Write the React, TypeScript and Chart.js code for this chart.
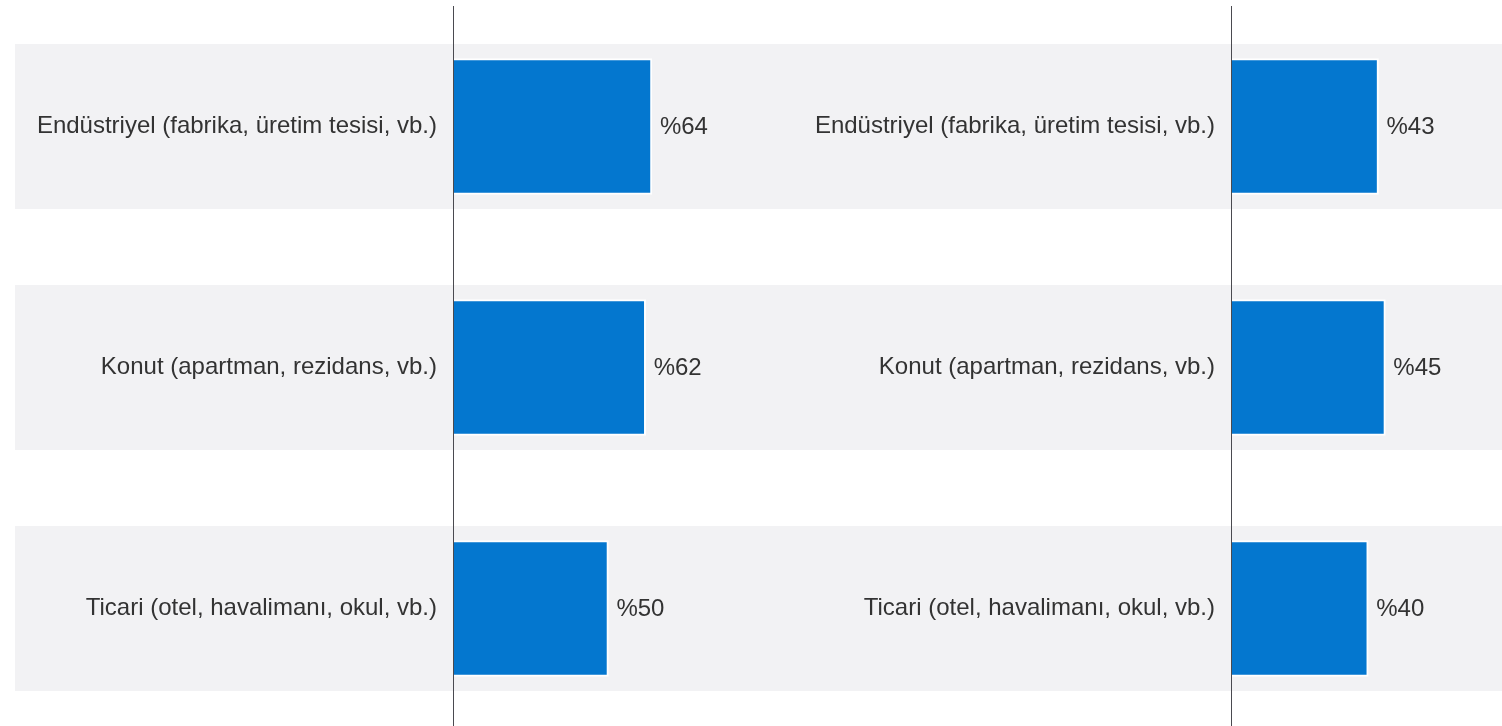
import React, { useEffect, useRef } from "react";
import { Chart, registerables } from "chart.js";

Chart.register(...registerables);

const categories = [
  "Endüstriyel (fabrika, üretim tesisi, vb.)",
  "Konut (apartman, rezidans, vb.)",
  "Ticari (otel, havalimanı, okul, vb.)",
];
const leftValues = [64, 62, 50];
const rightValues = [43, 45, 40];

const FONT = "'Liberation Sans', Arial, sans-serif";
const TEXT = "#333333";
const BAR = "#0477cf";
const BAND = "#f2f2f4";

const bgFirstPlugin = {
  id: "bgFirst",
  beforeDraw(chart: any) {
    const { ctx } = chart;
    const y = chart.scales.y;
    const step = Math.abs(y.getPixelForValue(1) - y.getPixelForValue(0));
    const h = step * 0.685;
    ctx.save();
    ctx.fillStyle = BAND;
    for (let i = 0; i < chart.data.labels.length; i++) {
      const c = y.getPixelForValue(i);
      ctx.fillRect(0, c - h / 2, chart.width, h);
    }
    ctx.restore();
  },
};

const valueLabelPlugin = {
  id: "valueLabels",
  afterDatasetsDraw(chart: any) {
    const { ctx } = chart;
    const meta = chart.getDatasetMeta(0);
    const data = chart.data.datasets[0].data;
    ctx.save();
    ctx.fillStyle = TEXT;
    ctx.font = `24px ${FONT}`;
    ctx.textAlign = "left";
    ctx.textBaseline = "middle";
    meta.data.forEach((bar: any, i: number) => {
      ctx.fillText("%" + data[i], bar.x + 8, bar.y + 1);
    });
    ctx.restore();
  },
};

function Panel({ values, max, width }: { values: number[]; max: number; width: number }) {
  const ref = useRef<HTMLCanvasElement>(null);
  useEffect(() => {
    if (!ref.current) return;
    const chart = new Chart(ref.current, {
      type: "bar",
      data: {
        labels: categories,
        datasets: [
          {
            data: values,
            backgroundColor: BAR,
            borderColor: "#ffffff",
            borderWidth: 2,
            barThickness: 136,
          },
        ],
      },
      options: {
        indexAxis: "y",
        responsive: false,
        animation: false,
        devicePixelRatio: 1,
        layout: { padding: { top: 6, bottom: 6, left: 0, right: 0 } },
        plugins: { legend: { display: false }, tooltip: { enabled: false } },
        scales: {
          x: { display: false, min: 0, max },
          y: {
            grid: { display: false, drawTicks: false },
            border: { display: true, color: "#4a4a50", width: 1, z: 1 },
            ticks: {
              padding: 16,
              color: TEXT,
              font: { size: 24, family: FONT },
            },
            afterFit(scale: any) {
              scale.width = 438;
              scale.paddingTop = 0;
              scale.paddingBottom = 0;
            },
          },
        },
      },
      plugins: [bgFirstPlugin, valueLabelPlugin],
    });
    return () => chart.destroy();
  }, []);
  return <canvas ref={ref} width={width} height={735} style={{ display: "block" }} />;
}

export default function App() {
  return (
    <div
      style={{
        position: "fixed",
        left: 0,
        top: 0,
        width: 1502,
        height: 726,
        overflow: "hidden",
        background: "#ffffff",
      }}
    >
      <div style={{ position: "absolute", left: 15, top: 0 }}>
        <Panel values={leftValues} max={109.4} width={778} />
      </div>
      <div style={{ position: "absolute", left: 793, top: 0 }}>
        <Panel values={rightValues} max={79} width={709} />
      </div>
    </div>
  );
}
